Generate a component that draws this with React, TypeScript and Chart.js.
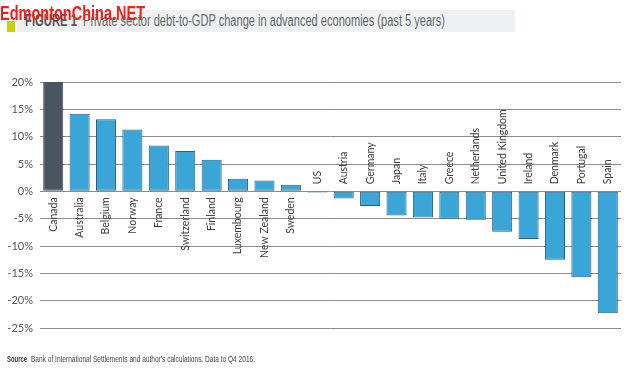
import React, { useEffect, useLayoutEffect, useRef } from "react";
import { Chart, registerables } from "chart.js";

Chart.register(...registerables);

const countries = [
  "Canada", "Australia", "Belgium", "Norway", "France", "Switzerland", "Finland",
  "Luxembourg", "New Zealand", "Sweden", "US", "Austria", "Germany", "Japan", "Italy",
  "Greece", "Netherlands", "United Kingdom", "Ireland", "Denmark", "Portugal", "Spain",
];
const changePct = [
  20.0, 14.2, 13.2, 11.3, 8.4, 7.4, 5.8, 2.3, 2.0, 1.2, -0.2, -1.3, -2.7, -4.4, -4.8,
  -5.0, -5.2, -7.4, -8.7, -12.5, -15.7, -22.3,
];
const highlighted = "Canada";
const yMin = -25;
const yMax = 20;
const yStep = 5;

const titleLead = "FIGURE 1";
const titleText = "Private sector debt-to-GDP change in advanced economies (past 5 years)";
const sourceLead = "Source";
const sourceText = "Bank of International Settlements and author's calculations. Data to Q4 2016.";
const watermark = "EdmontonChina.NET";

function FitText(props: { text: string; left: number; top: number; width: number; style: React.CSSProperties }) {
  const ref = useRef<HTMLSpanElement>(null);
  useLayoutEffect(() => {
    const el = ref.current;
    if (!el) return;
    el.style.transform = "none";
    const w = el.getBoundingClientRect().width;
    if (w > 0) el.style.transform = `scaleX(${props.width / w})`;
  }, [props.text, props.width]);
  return (
    <span
      ref={ref}
      style={{
        position: "absolute",
        left: props.left,
        top: props.top,
        whiteSpace: "nowrap",
        transformOrigin: "0 0",
        lineHeight: 1,
        ...props.style,
      }}
    >
      {props.text}
    </span>
  );
}

const barLabelPlugin = {
  id: "barLabels",
  afterDatasetsDraw(chart: any) {
    const ctx = chart.ctx;
    const meta = chart.getDatasetMeta(0);
    const yScale = chart.scales.y;
    const zeroY = yScale.getPixelForValue(0);
    ctx.save();
    ctx.font = "10.5px Lato, 'Open Sans', sans-serif";
    ctx.fillStyle = "#3c3c3c";
    ctx.textBaseline = "middle";
    meta.data.forEach((bar: any, i: number) => {
      const v = changePct[i];
      const label = countries[i];
      ctx.save();
      if (v > 0) {
        ctx.translate(bar.x, zeroY + 6);
        ctx.rotate(-Math.PI / 2);
        ctx.textAlign = "right";
      } else {
        ctx.translate(bar.x, zeroY - 7);
        ctx.rotate(-Math.PI / 2);
        ctx.textAlign = "left";
      }
      ctx.fillText(label, 0, 0);
      ctx.restore();
    });
    ctx.restore();
  },
};

export default function App() {
  const canvasRef = useRef<HTMLCanvasElement>(null);

  useEffect(() => {
    document.body.style.margin = "0";
    const canvas = canvasRef.current;
    if (!canvas) return;
    const chart = new Chart(canvas, {
      type: "bar",
      data: {
        labels: countries,
        datasets: [
          {
            data: changePct,
            backgroundColor: countries.map((c) => (c === highlighted ? "#4a5560" : "#3aa6d8")),
            borderColor: countries.map((c) => (c === highlighted ? "#4a5560" : "#2b5f78")),
            borderWidth: 1,
            borderSkipped: false,
            categoryPercentage: 1,
            barPercentage: 0.76,
          },
        ],
      },
      options: {
        responsive: false,
        animation: false,
        devicePixelRatio: 1,
        layout: { padding: { top: 82, right: 9, bottom: 42, left: 0 } },
        plugins: {
          legend: { display: false },
          tooltip: { enabled: false },
          title: { display: false },
        },
        scales: {
          x: {
            display: false,
            offset: true,
          },
          y: {
            min: yMin,
            max: yMax,
            afterFit: (scale: any) => {
              scale.width = 40;
            },
            border: { display: false },
            grid: { color: "#8c8c8c", lineWidth: 1, drawTicks: false },
            ticks: {
              stepSize: yStep,
              padding: 7,
              color: "#555",
              font: { family: "Lato, 'Open Sans', sans-serif", size: 11 },
              callback: (v: any) => `${v}%`,
            },
          },
        },
      },
      plugins: [barLabelPlugin],
    });
    return () => chart.destroy();
  }, []);

  return (
    <div style={{ position: "relative", width: 630, height: 370, background: "#fff", overflow: "hidden" }}>
      <div style={{ position: "absolute", left: 17, top: 10, width: 498, height: 22, background: "#eef1f3" }} />
      <div style={{ position: "absolute", left: 7, top: 21, width: 8, height: 11, background: "#c5d300" }} />
      <FitText
        text={titleLead}
        left={25}
        top={13}
        width={52}
        style={{ fontFamily: "'Liberation Sans', Arial, sans-serif", fontWeight: 700, fontSize: 16, color: "#555" }}
      />
      <FitText
        text={titleText}
        left={83}
        top={13}
        width={362}
        style={{ fontFamily: "'Liberation Sans', Arial, sans-serif", fontSize: 16, color: "#666" }}
      />
      <canvas ref={canvasRef} width={630} height={370} style={{ position: "absolute", left: 0, top: 0, width: 630, height: 370 }} />
      <FitText
        text={watermark}
        left={0}
        top={3}
        width={145}
        style={{ fontFamily: "'Liberation Sans', Arial, sans-serif", fontWeight: 700, fontSize: 20, color: "#e8221e" }}
      />
      <FitText
        text={sourceLead}
        left={7}
        top={355}
        width={20}
        style={{ fontFamily: "'Liberation Sans', Arial, sans-serif", fontWeight: 700, fontSize: 9, color: "#333" }}
      />
      <FitText
        text={sourceText}
        left={31}
        top={355}
        width={224}
        style={{ fontFamily: "'Liberation Sans', Arial, sans-serif", fontSize: 9, color: "#444" }}
      />
    </div>
  );
}
